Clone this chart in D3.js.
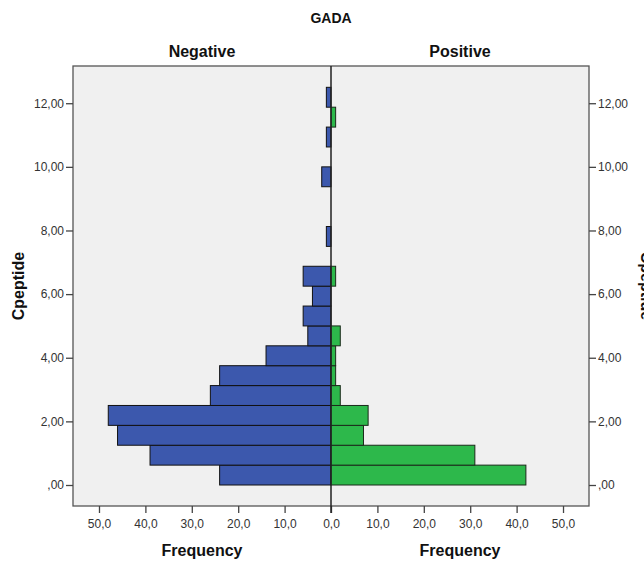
<!DOCTYPE html>
<html><head><meta charset="utf-8">
<script src="https://cdn.jsdelivr.net/npm/d3@7"></script>
<style>body{margin:0;background:#fff}svg{display:block;font-family:"Liberation Sans",Arial,sans-serif}</style>
</head><body>
<svg id="c" width="644" height="561"></svg>
<script>
// Data
const binWidth = 0.625;
const binStarts = [0,0.625,1.25,1.875,2.5,3.125,3.75,4.375,5,5.625,6.25,6.875,7.5,8.125,8.75,9.375,10,10.625,11.25,11.875];
const negativeCounts = [24,39,46,48,26,24,14,5,6,4,6,0,1,0,0,2,0,1,0,1];
const positiveCounts = [42,31,7,8,2,1,1,2,0,0,1,0,0,0,0,0,0,0,1,0];
const yTicks = [0,2,4,6,8,10,12];
const xTicks = [0,10,20,30,40,50];
const title = "GADA";
const panelTitles = ["Negative","Positive"];

const svg = d3.select("#c");
const L = 73, R = 589, C = 331, T = 66, B = 506;
const xMax = 55.6;
const xNeg = d3.scaleLinear().domain([0, xMax]).range([C, L]);
const xPos = d3.scaleLinear().domain([0, xMax]).range([C, R]);
const y = d3.scaleLinear().domain([-0.66, 13.17]).range([B, T]);
const fmtY = d => d === 0 ? ",00" : d3.format(".2f")(d).replace(".", ",");
const fmtX = d => d3.format(".1f")(d).replace(".", ",");

// panels
svg.append("rect").attr("x", L).attr("y", T).attr("width", R - L).attr("height", B - T)
  .attr("fill", "#f0f0f0");

const bins = binStarts.map((s, i) => ({s, neg: negativeCounts[i], pos: positiveCounts[i]}));

svg.append("g").selectAll("rect").data(bins.filter(d => d.neg > 0)).join("rect")
  .attr("x", d => xNeg(d.neg)).attr("width", d => xNeg(0) - xNeg(d.neg))
  .attr("y", d => y(d.s + binWidth)).attr("height", d => y(d.s) - y(d.s + binWidth))
  .attr("fill", "#3c58ad").attr("stroke", "#111").attr("stroke-width", 1);

svg.append("g").selectAll("rect").data(bins.filter(d => d.pos > 0)).join("rect")
  .attr("x", xPos(0)).attr("width", d => xPos(d.pos) - xPos(0))
  .attr("y", d => y(d.s + binWidth)).attr("height", d => y(d.s) - y(d.s + binWidth))
  .attr("fill", "#2db84b").attr("stroke", "#1a2a1a").attr("stroke-width", 1);

// frame
svg.append("rect").attr("x", L).attr("y", T).attr("width", R - L).attr("height", B - T)
  .attr("fill", "none").attr("stroke", "#555").attr("stroke-width", 1.3);

// axes
const styleAxis = g => {
  g.select(".domain").remove();
  g.selectAll(".tick line").attr("stroke", "#444").attr("stroke-width", 1.3);
  g.selectAll(".tick text").attr("fill", "#333").style("font-size", "12px");
};
svg.append("g").attr("transform", `translate(${L},0)`)
  .call(d3.axisLeft(y).tickValues(yTicks).tickFormat(fmtY).tickSize(7).tickPadding(2)).call(styleAxis);
svg.append("g").attr("transform", `translate(${R},0)`)
  .call(d3.axisRight(y).tickValues(yTicks).tickFormat(fmtY).tickSize(7).tickPadding(2)).call(styleAxis);
svg.append("g").attr("transform", `translate(0,${B})`)
  .call(d3.axisBottom(xNeg).tickValues(xTicks).tickFormat(fmtX).tickSize(7).tickPadding(6)).call(styleAxis);
svg.append("g").attr("transform", `translate(0,${B})`)
  .call(d3.axisBottom(xPos).tickValues(xTicks.filter(d => d > 0)).tickFormat(fmtX).tickSize(7).tickPadding(6)).call(styleAxis);

// center line
svg.append("line").attr("x1", C).attr("x2", C).attr("y1", T).attr("y2", B + 7)
  .attr("stroke", "#222").attr("stroke-width", 1.5);

// texts
svg.append("text").attr("x", C).attr("y", 23).attr("text-anchor", "middle")
  .style("font-size", "14px").style("font-weight", "bold").attr("fill", "#111").text(title);
svg.append("text").attr("x", (L + C) / 2).attr("y", 57).attr("text-anchor", "middle")
  .style("font-size", "16px").style("font-weight", "bold").attr("fill", "#111").text(panelTitles[0]);
svg.append("text").attr("x", (C + R) / 2).attr("y", 57).attr("text-anchor", "middle")
  .style("font-size", "16px").style("font-weight", "bold").attr("fill", "#111").text(panelTitles[1]);
svg.append("text").attr("x", (L + C) / 2).attr("y", 556).attr("text-anchor", "middle")
  .style("font-size", "16px").style("font-weight", "bold").attr("fill", "#111").text("Frequency");
svg.append("text").attr("x", (C + R) / 2).attr("y", 556).attr("text-anchor", "middle")
  .style("font-size", "16px").style("font-weight", "bold").attr("fill", "#111").text("Frequency");
svg.append("text").attr("transform", "translate(24,286) rotate(-90)").attr("text-anchor", "middle")
  .style("font-size", "16px").style("font-weight", "bold").attr("fill", "#111").text("Cpeptide");
svg.append("text").attr("transform", "translate(641,286) rotate(90)").attr("text-anchor", "middle")
  .style("font-size", "16px").style("font-weight", "bold").attr("fill", "#111").text("Cpeptide");
</script>
</body></html>
